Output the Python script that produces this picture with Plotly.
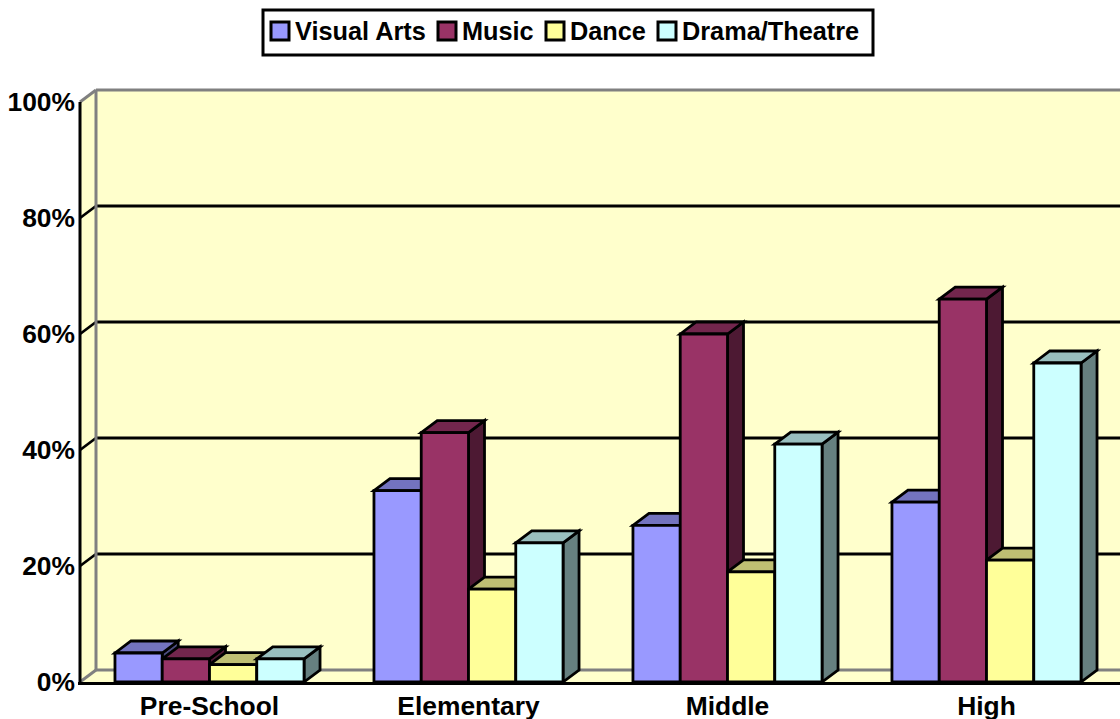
import plotly.graph_objects as go

categories = ["Pre-School", "Elementary", "Middle", "High"]
visual_arts = [5, 33, 27, 31]
music = [4, 43, 60, 66]
dance = [3, 16, 19, 21]
drama = [4, 24, 41, 55]
y_ticks = [0, 20, 40, 60, 80, 100]
y_tick_labels = ["0%", "20%", "40%", "60%", "80%", "100%"]

series_names = ["Visual Arts", "Music", "Dance", "Drama/Theatre"]
series_values = [visual_arts, music, dance, drama]
front_colors = ["#9999FF", "#993366", "#FFFF99", "#CCFFFF"]
top_colors = ["#7373BF", "#73264D", "#BFBF73", "#99BFBF"]
side_colors = ["#4D4D80", "#4D1933", "#808050", "#668080"]
WALL = "#FFFFCC"
GREY = "#808080"
FONT = "Liberation Sans, Arial, sans-serif"

# legend layout, in pixels of the page
legend_swatch_left = [271, 438, 546, 658]
legend_text_left = [295, 462, 570, 682]
LEGEND_BOX = (263, 10, 873, 55)
SWATCH_TOP, SWATCH_SIZE = 22, 18
LEGEND_TEXT_Y = 31

W, H = 1120, 719
M_L, M_R, M_T, M_B = 78, 0, 88, 37
PX_PER_CAT = 259.0
PX_PER_PCT = 5.8
DX = 16 / PX_PER_CAT
DY = 12 / PX_PER_PCT
X0 = -0.5
x_min = X0 - 2 / PX_PER_CAT
x_max = x_min + (W - M_L - M_R) / PX_PER_CAT
y_max = (H - M_T - M_B) / PX_PER_PCT
BARGAP = 0.27
BAR_W = (1 - BARGAP) / 4
EDGE = 2.8


def poly(points, fill, line_color="black", line_width=EDGE):
    path = "M" + " L".join(f"{x},{y}" for x, y in points) + " Z"
    return dict(type="path", path=path, xref="x", yref="y", layer="between",
                fillcolor=fill, line=dict(color=line_color, width=line_width))


def seg(x0, y0, x1, y1, color, width):
    return dict(type="line", x0=x0, y0=y0, x1=x1, y1=y1, xref="x", yref="y",
                layer="between", line=dict(color=color, width=width))


def px_x(px):
    return (px - M_L) / (W - M_L - M_R)


def px_y(px):
    return 1 - (px - M_T) / (H - M_T - M_B)


shapes = []
# walls and floor
shapes.append(poly([(X0 + DX, DY), (x_max, DY), (x_max, 100 + DY), (X0 + DX, 100 + DY)], WALL, WALL, 0))
shapes.append(poly([(X0, 0), (X0 + DX, DY), (X0 + DX, 100 + DY), (X0, 100)], WALL, WALL, 0))
shapes.append(poly([(X0, 0), (x_max, 0), (x_max, DY), (X0 + DX, DY)], WALL, WALL, 0))
# gridlines
for t in y_ticks[1:-1]:
    shapes.append(seg(X0, t, X0 + DX, t + DY, "black", EDGE))
    shapes.append(seg(X0 + DX, t + DY, x_max, t + DY, "black", EDGE))
# wall edges
shapes.append(seg(X0 + DX, DY, x_max, DY, GREY, 3))
shapes.append(seg(X0 + DX, 100 + DY, x_max, 100 + DY, GREY, 3))
shapes.append(seg(X0 + DX, DY, X0 + DX, 100 + DY, GREY, 3))
shapes.append(seg(X0, 0, X0 + DX, DY, GREY, 3))
shapes.append(seg(X0, 100, X0 + DX, 100 + DY, GREY, 3))
shapes.append(seg(X0, 0, X0, 100, "black", 3))

# depth faces of the bars, derived from the data
for c in range(len(categories)):
    for s, values in enumerate(series_values):
        v = values[c]
        left = c - 2 * BAR_W + s * BAR_W
        right = left + BAR_W
        shapes.append(poly([(right, 0), (right + DX, DY), (right + DX, v + DY), (right, v)], side_colors[s]))
        shapes.append(poly([(left, v), (left + DX, v + DY), (right + DX, v + DY), (right, v)], top_colors[s]))

# legend
shapes.append(dict(type="rect", xref="paper", yref="paper", layer="above",
                   x0=px_x(LEGEND_BOX[0]), x1=px_x(LEGEND_BOX[2]),
                   y0=px_y(LEGEND_BOX[1]), y1=px_y(LEGEND_BOX[3]),
                   fillcolor="white", line=dict(color="black", width=3)))
annotations = []
for s, name in enumerate(series_names):
    shapes.append(dict(type="rect", xref="paper", yref="paper", layer="above",
                       x0=px_x(legend_swatch_left[s]), x1=px_x(legend_swatch_left[s] + SWATCH_SIZE),
                       y0=px_y(SWATCH_TOP), y1=px_y(SWATCH_TOP + SWATCH_SIZE),
                       fillcolor=front_colors[s], line=dict(color="black", width=3)))
    annotations.append(dict(text=name, xref="paper", yref="paper", showarrow=False,
                            x=px_x(legend_text_left[s]), y=px_y(LEGEND_TEXT_Y),
                            xanchor="left", yanchor="middle", borderpad=0, borderwidth=0,
                            font=dict(family=FONT, size=25.3, weight="bold", color="black")))

fig = go.Figure()
x_idx = list(range(len(categories)))
for s, values in enumerate(series_values):
    fig.add_trace(go.Bar(
        x=x_idx, y=values, name=series_names[s], showlegend=False, cliponaxis=False,
        marker=dict(color=front_colors[s], line=dict(color="black", width=EDGE)),
    ))

fig.update_layout(
    width=W, height=H,
    margin=dict(l=M_L, r=M_R, t=M_T, b=M_B, autoexpand=False),
    paper_bgcolor="white", plot_bgcolor="white",
    barmode="group", bargap=BARGAP, bargroupgap=0,
    font=dict(family=FONT, color="black"),
    shapes=shapes, annotations=annotations, showlegend=False,
    xaxis=dict(
        range=[x_min, x_max], tickmode="array", tickvals=x_idx, ticktext=categories,
        showgrid=False, zeroline=False, showline=True, linecolor="black", linewidth=3,
        ticklabelstandoff=-2,
        ticks="", tickfont=dict(family=FONT, size=26.4, weight="bold", color="black"),
    ),
    yaxis=dict(
        range=[0, y_max], tickmode="array", tickvals=y_ticks, ticktext=y_tick_labels,
        showgrid=False, zeroline=False, showline=False, ticklabelstandoff=2,
        ticks="", tickfont=dict(family=FONT, size=26.4, weight="bold", color="black"),
    ),
)
fig.write_html("out.html", config={"displayModeBar": False},
               post_script="document.body.style.margin='0';document.documentElement.style.overflow='hidden';")
